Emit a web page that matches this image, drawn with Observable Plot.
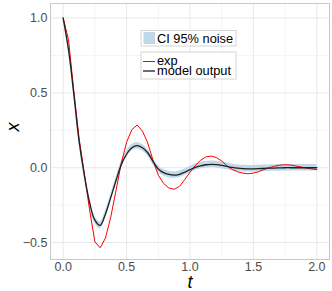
<!DOCTYPE html>
<html>
<head>
<meta charset="utf-8">
<script src="https://cdn.jsdelivr.net/npm/d3@7"></script>
<script src="https://cdn.jsdelivr.net/npm/@observablehq/plot@0.6"></script>
<style>
  body { margin: 0; background: white; }
</style>
</head>
<body>
<div id="chart"></div>
<script>
// time samples (t)
const tValues = [0, 0.042, 0.083, 0.125, 0.167, 0.208, 0.25, 0.292, 0.333, 0.375, 0.417, 0.458, 0.5, 0.542, 0.583, 0.625, 0.667, 0.708, 0.75, 0.792, 0.833, 0.875, 0.917, 0.958, 1.0, 1.042, 1.083, 1.125, 1.167, 1.208, 1.25, 1.292, 1.333, 1.375, 1.417, 1.458, 1.5, 1.542, 1.583, 1.625, 1.667, 1.708, 1.75, 1.792, 1.833, 1.875, 1.917, 1.958, 2.0];
// experimental series (red)
const expValues = [1.0, 0.855, 0.52, 0.2, -0.04, -0.28, -0.495, -0.535, -0.47, -0.33, -0.15, 0.03, 0.17, 0.255, 0.285, 0.245, 0.165, 0.05, -0.05, -0.105, -0.135, -0.144, -0.125, -0.08, -0.03, 0.015, 0.05, 0.072, 0.078, 0.068, 0.045, 0.012, -0.012, -0.027, -0.036, -0.04, -0.036, -0.026, -0.012, 0.0, 0.01, 0.017, 0.02, 0.018, 0.012, 0.005, -0.002, -0.008, -0.012];
// model output series (black)
const modelValues = [1.0, 0.79, 0.5, 0.18, -0.05, -0.23, -0.35, -0.385, -0.31, -0.2, -0.085, 0.02, 0.09, 0.133, 0.147, 0.133, 0.1, 0.042, -0.008, -0.033, -0.045, -0.05, -0.044, -0.03, -0.013, 0.003, 0.013, 0.02, 0.023, 0.021, 0.016, 0.009, 0.002, -0.003, -0.006, -0.007, -0.007, -0.006, -0.004, -0.003, -0.002, -0.001, 0.0, 0.0, 0.0, 0.0, 0.0, 0.0, 0.0];
// CI 95% noise half width
const ciHalfWidth = 0.022;

const xMajor = [0, 0.5, 1, 1.5, 2];
const xMinor = [0.25, 0.75, 1.25, 1.75];
const yMajor = [-0.5, 0, 0.5, 1];
const yMinor = [-0.25, 0.25, 0.75];

const ciColor = "#bfd7e9";
const expColor = "#ff0000";
const modelColor = "#1f1f1f";

const rows = tValues.map((t, i) => ({
  t, exp: expValues[i], model: modelValues[i],
  lo: modelValues[i] - ciHalfWidth, hi: modelValues[i] + ciHalfWidth
}));

const fmt = d3.format(".1f");

const svg = Plot.plot({
  width: 332,
  height: 291,
  marginLeft: 50,
  marginRight: 3,
  marginTop: 3,
  marginBottom: 32,
  style: {fontFamily: "'Liberation Sans', Arial, sans-serif", fontSize: "12.5px", color: "#4d4d4d", background: "white"},
  x: {domain: [-0.1, 2.1]},
  y: {domain: [-0.613, 1.097]},
  marks: [
    Plot.ruleX(xMinor, {stroke: "#f4f4f4", strokeWidth: 1}),
    Plot.ruleY(yMinor, {stroke: "#f4f4f4", strokeWidth: 1}),
    Plot.ruleX(xMajor, {stroke: "#e8e8e8", strokeWidth: 1}),
    Plot.ruleY(yMajor, {stroke: "#e8e8e8", strokeWidth: 1}),
    Plot.areaY(rows, {x: "t", y1: "lo", y2: "hi", fill: ciColor, curve: "catmull-rom"}),
    Plot.line(rows, {x: "t", y: "exp", stroke: expColor, strokeWidth: 1}),
    Plot.line(rows, {x: "t", y: "model", stroke: modelColor, strokeWidth: 1.3, curve: "catmull-rom"}),
    Plot.frame({stroke: "#c8c8c8"}),
    Plot.axisX(xMajor, {tickSize: 0, tickPadding: 3, tickFormat: fmt, label: null, fontSize: 12.5}),
    Plot.axisY(yMajor, {tickSize: 0, tickPadding: 3, tickFormat: fmt, label: null, fontSize: 12.5}),
    Plot.text(["t"], {frameAnchor: "bottom", dy: 23, text: d => d, fontStyle: "italic", fontSize: 18, fill: "black", lineAnchor: "middle"}),
    Plot.text(["x"], {frameAnchor: "left", dx: -37, text: d => d, fontStyle: "italic", fontSize: 18, fill: "black", rotate: -90, lineAnchor: "middle"})
  ]
});

// legends
const g = d3.select(svg).append("g")
  .attr("font-family", "'Liberation Sans', Arial, sans-serif")
  .attr("font-size", 12.8)
  .attr("text-anchor", "start")
  .attr("fill", "black");

g.append("rect").attr("x", 141).attr("y", 30.5).attr("width", 95).attr("height", 15.5)
  .attr("fill", "white").attr("stroke", "#d4d4d4");
g.append("rect").attr("x", 143.5).attr("y", 32).attr("width", 11.5).attr("height", 12).attr("fill", ciColor);
g.append("text").attr("x", 157).attr("y", 42.5).text("CI 95% noise");

g.append("rect").attr("x", 141).attr("y", 52).attr("width", 95).attr("height", 27)
  .attr("fill", "white").attr("stroke", "#d4d4d4");
g.append("line").attr("x1", 143).attr("x2", 155).attr("y1", 61.5).attr("y2", 61.5)
  .attr("stroke", expColor).attr("stroke-width", 1);
g.append("text").attr("x", 157).attr("y", 64.8).text("exp");
g.append("line").attr("x1", 143).attr("x2", 155).attr("y1", 71).attr("y2", 71)
  .attr("stroke", modelColor).attr("stroke-width", 1.3);
g.append("text").attr("x", 157).attr("y", 74.5).text("model output");

document.getElementById("chart").appendChild(svg);
</script>
</body>
</html>
